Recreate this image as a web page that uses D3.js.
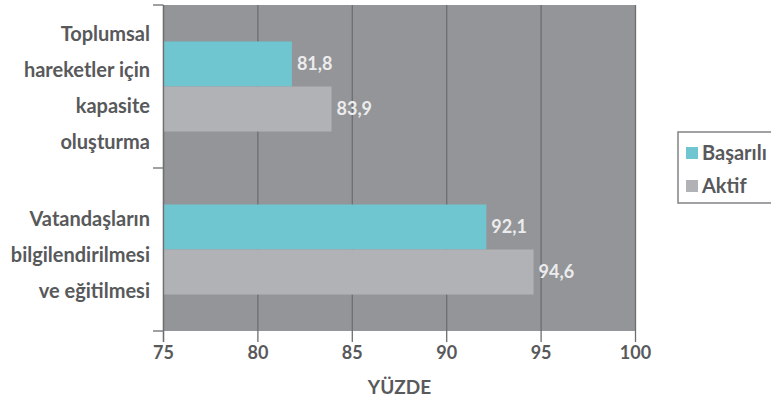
<!DOCTYPE html>
<html><head><meta charset="utf-8">
<script src="https://cdn.jsdelivr.net/npm/d3@7"></script>
<style>body{margin:0;background:#fff}svg{display:block}text{font-family:Lato,"Open Sans",sans-serif;font-weight:700}</style>
</head><body><svg id="c" width="771" height="403"></svg>
<script>
const categories = [["Toplumsal","hareketler için","kapasite","oluşturma"],["Vatandaşların","bilgilendirilmesi","ve eğitilmesi"]];
const catKeys = ["cap","vat"];
const seriesNames = ["Başarılı","Aktif"];
const basarili = [81.8, 92.1];
const aktif = [83.9, 94.6];
const xTicks = [75,80,85,90,95,100];
const xTitle = "YÜZDE";
const colors = ["#6fc6d1","#b1b2b5"];

const svg = d3.select("#c");
const m = {l:163.5,r:635.5,t:5,b:331};
const x = d3.scaleLinear().domain([75,100]).range([m.l,m.r]);
const y0 = d3.scaleBand().domain(catKeys).range([m.t,m.b]).paddingInner(0).paddingOuter(0);
const y1 = d3.scaleBand().domain(seriesNames).range([0,y0.bandwidth()]).paddingOuter(0.81).paddingInner(0);

svg.append("rect").attr("x",m.l).attr("y",m.t).attr("width",m.r-m.l).attr("height",m.b-m.t).attr("fill","#939598");
// grid
svg.append("g").selectAll("line").data(xTicks).join("line")
  .attr("x1",d=>x(d)).attr("x2",d=>x(d)).attr("y1",m.t).attr("y2",m.b+11)
  .attr("stroke","#6d6e71").attr("stroke-width",1.3);

const data = catKeys.map((k,i)=>({k, vals:[basarili[i],aktif[i]]}));
const g = svg.append("g");
data.forEach(d=>{
  d.vals.forEach((v,j)=>{
    const yy = y0(d.k)+y1(seriesNames[j]);
    g.append("rect").attr("x",x(75)).attr("y",yy).attr("width",x(v)-x(75)).attr("height",y1.bandwidth()).attr("fill",colors[j]);
    g.append("text").attr("x",x(v)+5).attr("y",yy+y1.bandwidth()/2).attr("dy","0.35em")
      .attr("fill","#ececed").attr("font-size",18).text(d3.format(".1f")(v).replace(".",","));
  });
});
// y axis ticks
svg.append("g").selectAll("line").data([m.t, ...catKeys.map(k=>y0(k)+y0.bandwidth())]).join("line")
  .attr("x1",153).attr("x2",m.l).attr("y1",d=>d).attr("y2",d=>d).attr("stroke","#6d6e71").attr("stroke-width",1.3);
svg.append("line").attr("x1",m.l).attr("x2",m.l).attr("y1",m.t).attr("y2",m.b+11).attr("stroke","#6d6e71").attr("stroke-width",1.3);

// category labels
categories.forEach((lines,i)=>{
  const cy = y0(catKeys[i])+y0.bandwidth()/2 + (i==1?5:1);
  const n = lines.length, lh = 36;
  lines.forEach((t,j)=>{
    svg.append("text").attr("x",150).attr("y",cy+(j-(n-1)/2)*lh).attr("dy","0.35em")
      .attr("text-anchor","end").attr("fill","#58595b").attr("font-size",20).text(t);
  });
});
// x tick labels
svg.append("g").selectAll("text").data(xTicks).join("text")
  .attr("x",d=>x(d)).attr("y",353).attr("dy","0.35em").attr("text-anchor","middle")
  .attr("fill","#58595b").attr("font-size",18).text(d=>d);
svg.append("text").attr("x",(m.l+m.r)/2).attr("y",387).attr("dy","0.35em").attr("text-anchor","middle")
  .attr("fill","#58595b").attr("font-size",19).attr("font-weight",600).text(xTitle);

// legend
const lg = svg.append("g");
lg.append("rect").attr("x",678).attr("y",132).attr("width",100).attr("height",71).attr("fill","#fff").attr("stroke","#808285").attr("stroke-width",1.5);
seriesNames.forEach((s,i)=>{
  const cy = 153 + i*33;
  lg.append("rect").attr("x",686).attr("y",cy-6).attr("width",12).attr("height",12).attr("fill",colors[i]);
  lg.append("text").attr("x",702).attr("y",cy).attr("dy","0.35em").attr("fill","#58595b").attr("font-size",20).text(s);
});
</script></body></html>
